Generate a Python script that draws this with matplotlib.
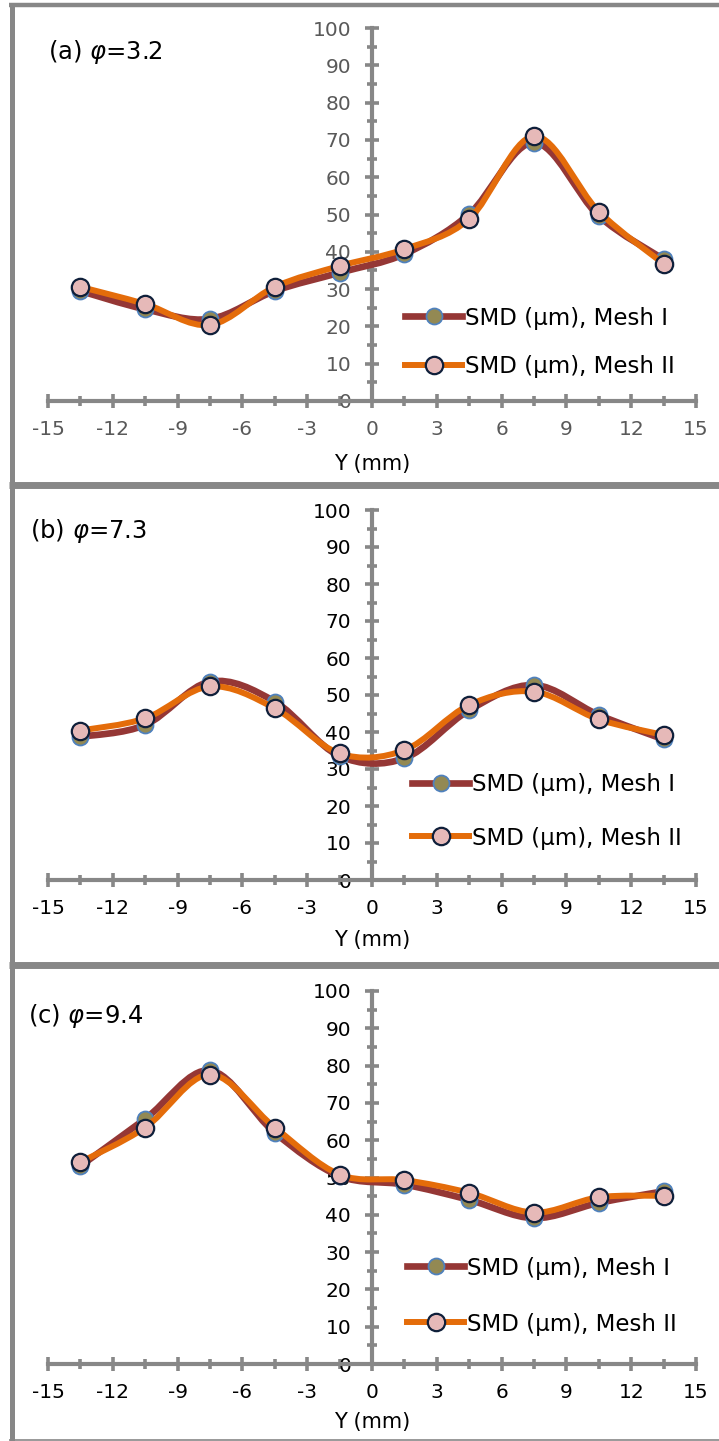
import matplotlib.pyplot as plt
import numpy as np
from matplotlib.path import Path
from matplotlib.patches import PathPatch
from matplotlib.lines import Line2D
from matplotlib.legend import Legend
from matplotlib.ticker import MultipleLocator

plt.rcParams['font.family'] = ['DejaVu Sans']

# radial positions (mm)
y_pos = [-13.5, -10.5, -7.5, -4.5, -1.5, 1.5, 4.5, 7.5, 10.5, 13.5]

# SMD (um)
smd_a_mesh1 = [29.5, 24.6, 22.0, 29.5, 34.4, 39.4, 50.1, 69.3, 49.6, 38.0]
smd_a_mesh2 = [30.6, 26.0, 20.4, 30.6, 36.2, 40.7, 48.8, 71.0, 50.8, 36.8]
smd_b_mesh1 = [38.7, 41.9, 53.6, 48.2, 33.5, 32.9, 45.9, 52.7, 44.6, 38.0]
smd_b_mesh2 = [40.4, 43.7, 52.3, 46.4, 34.2, 35.1, 47.3, 50.9, 43.4, 39.2]
smd_c_mesh1 = [53.1, 65.7, 78.7, 62.0, 50.4, 48.1, 44.0, 39.1, 43.2, 46.3]
smd_c_mesh2 = [54.1, 63.4, 77.6, 63.4, 50.8, 49.3, 45.9, 40.6, 44.7, 45.1]

panel_titles = ["(a) ", "(b) ", "(c) "]
phi_values = ["3.2", "7.3", "9.4"]
legend_labels = ["SMD (\u00b5m), Mesh I", "SMD (\u00b5m), Mesh II"]

W, H = 719, 1441
fig = plt.figure(figsize=(W / 100, H / 100), dpi=100)


def fx(px):
    return px / W


def fy(px):
    return 1 - px / H


def smooth_path(x, y):
    # Excel-like smoothed line as cubic Bezier segments
    pts = np.column_stack([x, y])
    n = len(pts)
    verts = [pts[0]]
    codes = [Path.MOVETO]
    for i in range(n - 1):
        p0 = pts[max(i - 1, 0)]
        p1 = pts[i]
        p2 = pts[i + 1]
        p3 = pts[min(i + 2, n - 1)]
        verts += [p1 + (p2 - p0) / 6, p2 - (p3 - p1) / 6, p2]
        codes += [Path.CURVE4] * 3
    return Path(verts, codes)


gray = '#878787'
c_line1, c_line2 = '#953735', '#e46c0a'
lw1, lw2 = 4.8, 4.3
m1_style = dict(marker='o', ms=11.5, mfc='#938953', mec='#4f81bd', mew=1.3)
m2_style = dict(marker='o', ms=12.5, mfc='#e6b9b8', mec='#0f1f3a', mew=1.6)

# panel geometry in pixels: y of value 0 and 100, legend rows, x label row
panels = [
    dict(m1=smd_a_mesh1, m2=smd_a_mesh2, y0=401, y100=28, tcol='#595959',
         leg_y=(318, 367), leg_x=405, title_xy=(48, 52), xlab_y=464),
    dict(m1=smd_b_mesh1, m2=smd_b_mesh2, y0=880, y100=510, tcol='black',
         leg_y=(785, 838), leg_x=412, title_xy=(30, 531), xlab_y=940),
    dict(m1=smd_c_mesh1, m2=smd_c_mesh2, y0=1364, y100=991, tcol='black',
         leg_y=(1268, 1324), leg_x=407, title_xy=(28, 1016), xlab_y=1422),
]

for k, p in enumerate(panels):
    y0, y100 = p['y0'], p['y100']
    ax = fig.add_axes([fx(48), fy(y0), fx(696) - fx(48), fy(y100) - fy(y0)])
    ax.set_xlim(-15, 15)
    ax.set_ylim(0, 100)
    ax.patch.set_alpha(0)
    for s in ['top', 'right']:
        ax.spines[s].set_visible(False)
    ax.spines['left'].set_position(('data', 0))
    ax.spines['bottom'].set_position(('data', 0))
    for s in ['left', 'bottom']:
        ax.spines[s].set_color(gray)
        ax.spines[s].set_linewidth(3)
    ax.xaxis.set_major_locator(MultipleLocator(3))
    ax.xaxis.set_minor_locator(MultipleLocator(1.5))
    ax.yaxis.set_major_locator(MultipleLocator(10))
    ax.yaxis.set_minor_locator(MultipleLocator(5))
    ax.tick_params(which='major', direction='inout', length=10, width=2.6,
                   color=gray, labelsize=14.5, labelcolor=p['tcol'])
    ax.tick_params(which='minor', direction='inout', length=7, width=2.6, color=gray)
    ax.tick_params(axis='x', which='major', pad=9)
    ax.tick_params(axis='y', which='major', pad=10)
    ax.set_xticks(np.arange(-15, 16, 3))
    ax.set_xticklabels([str(v) for v in range(-15, 16, 3)])

    ax.add_patch(PathPatch(smooth_path(y_pos, p['m1']), fill=False, edgecolor=c_line1,
                           lw=lw1, capstyle='round', joinstyle='round', zorder=3))
    ax.plot(y_pos, p['m1'], ls='none', zorder=4, **m1_style)
    ax.add_patch(PathPatch(smooth_path(y_pos, p['m2']), fill=False, edgecolor=c_line2,
                           lw=lw2, capstyle='round', joinstyle='round', zorder=5))
    ax.plot(y_pos, p['m2'], ls='none', zorder=6, **m2_style)

    ax.set_xlabel('Y (mm)', fontsize=15, va='center')
    ax.xaxis.set_label_coords(0.5, (y0 - p['xlab_y']) / (y0 - y100))

    # one legend per entry so each row sits where the reference has it
    handles = [Line2D([], [], color=c_line1, lw=lw1, **m1_style),
               Line2D([], [], color=c_line2, lw=lw2, **m2_style)]
    bx = (p['leg_x'] - 48) / (696 - 48)
    for h, lab, ly in zip(handles, legend_labels, p['leg_y']):
        leg = Legend(ax, [h], [lab], loc='center left',
                     bbox_to_anchor=(bx, (y0 - ly) / (y0 - y100)),
                     frameon=False, fontsize=16.5, handlelength=2.5,
                     handletextpad=0.1, borderpad=0, borderaxespad=0)
        ax.add_artist(leg)

    tx, ty = p['title_xy']
    fig.text(fx(tx), fy(ty), panel_titles[k] + r'$\varphi$=' + phi_values[k],
             fontsize=17.5, ha='left', va='center')

# panel frames
frame_kw = dict(color=gray, transform=fig.transFigure, solid_capstyle='butt')
fig.add_artist(Line2D([fx(11.5), fx(11.5)], [fy(3), fy(1441)], lw=3.6, **frame_kw))
fig.add_artist(Line2D([fx(9), 1], [fy(5), fy(5)], lw=3.2, **frame_kw))
fig.add_artist(Line2D([fx(9), 1], [fy(484.5), fy(484.5)], lw=5, **frame_kw))
fig.add_artist(Line2D([fx(9), 1], [fy(964.5), fy(964.5)], lw=5, **frame_kw))
fig.add_artist(Line2D([fx(9), 1], [fy(1439.5), fy(1439.5)], lw=1.2, **frame_kw))

fig.savefig('out.png', dpi=100)
